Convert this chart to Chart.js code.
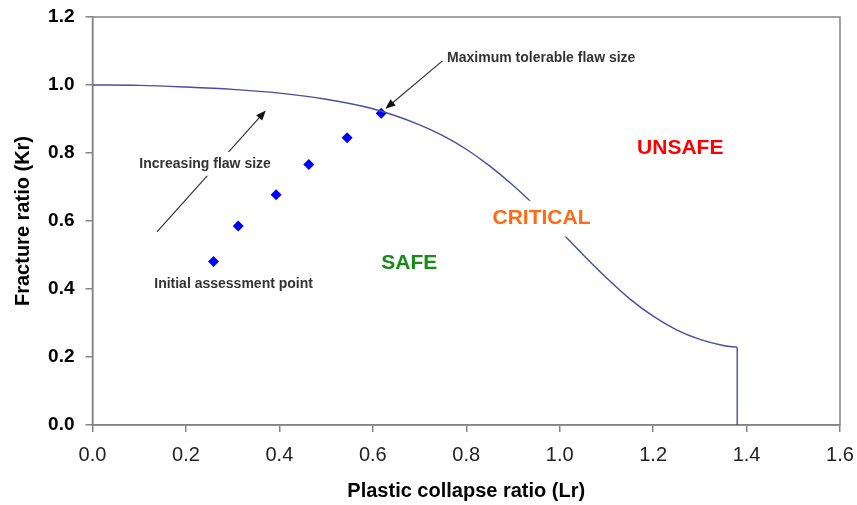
<!DOCTYPE html>
<html>
<head>
<meta charset="utf-8">
<script src="https://cdn.jsdelivr.net/npm/chart.js@4.4.1/dist/chart.umd.min.js"></script>
<style>
  html, body { margin: 0; padding: 0; background: #fff; }
  #wrap { width: 857px; height: 505px; }
</style>
</head>
<body>
<div id="wrap"><canvas id="fad"></canvas></div>
<script>
// failure assessment line
const lrCurve = [0, 0.1, 0.2, 0.3, 0.4, 0.5, 0.6, 0.7, 0.75, 0.8, 0.85, 0.9, 0.95, 1.0, 1.05, 1.1, 1.15, 1.2, 1.25, 1.3, 1.35, 1.37, 1.38];
const krCurve = [1.0, 0.999, 0.994, 0.987, 0.976, 0.958, 0.930, 0.883, 0.851, 0.811, 0.762, 0.705, 0.641, 0.572, 0.501, 0.433, 0.371, 0.320, 0.280, 0.252, 0.234, 0.230, 0.229];
// Lr max cut-off
const lrCutoff = [1.38, 1.38];
const krCutoff = [0.229, 0.0];
// assessment points
const lrPoints = [0.259, 0.312, 0.393, 0.463, 0.545, 0.618];
const krPoints = [0.481, 0.585, 0.677, 0.766, 0.845, 0.917];

const xTicks = [0, 0.2, 0.4, 0.6, 0.8, 1.0, 1.2, 1.4, 1.6];
const yTicks = [0, 0.2, 0.4, 0.6, 0.8, 1.0, 1.2];

const FONT = 'Arial, "Liberation Sans", sans-serif';
const AXIS_GREY = '#858585';

// labels + arrows drawn on top (data coords)
const notes = [
  { text: 'SAFE', x: 0.678, y: 0.476, color: '#178a17', size: 21, align: 'center' },
  { text: 'CRITICAL', x: 0.961, y: 0.607, color: '#ff6a13', size: 21, align: 'center', bg: true },
  { text: 'UNSAFE', x: 1.258, y: 0.813, color: '#ff0000', size: 21, align: 'center' },
  { text: 'Increasing flaw size', x: 0.241, y: 0.768, color: '#333', size: 14, align: 'center', bg: true },
  { text: 'Maximum tolerable flaw size', x: 0.759, y: 1.079, color: '#333', size: 14, align: 'left' },
  { text: 'Initial assessment point', x: 0.302, y: 0.415, color: '#333', size: 14, align: 'center' }
];
const arrows = [
  { from: [0.138, 0.568], to: [0.371, 0.925] },
  { from: [0.749, 1.071], to: [0.627, 0.930] }
];

const pairs = (xs, ys) => xs.map((x, i) => ({ x: x, y: ys[i] }));

const framePlugin = {
  id: 'frame',
  beforeDatasetsDraw(chart) {
    const a = chart.chartArea, ctx = chart.ctx;
    ctx.save();
    ctx.strokeStyle = AXIS_GREY;
    ctx.lineWidth = 1.5;
    ctx.strokeRect(a.left, a.top, a.right - a.left, a.bottom - a.top);
    ctx.restore();
  }
};

const notesPlugin = {
  id: 'notes',
  afterDatasetsDraw(chart) {
    const ctx = chart.ctx, xs = chart.scales.x, ys = chart.scales.y;
    ctx.save();
    // arrows
    arrows.forEach(a => {
      const x1 = xs.getPixelForValue(a.from[0]), y1 = ys.getPixelForValue(a.from[1]);
      const x2 = xs.getPixelForValue(a.to[0]), y2 = ys.getPixelForValue(a.to[1]);
      const ang = Math.atan2(y2 - y1, x2 - x1);
      ctx.strokeStyle = '#333';
      ctx.lineWidth = 1.2;
      ctx.beginPath();
      ctx.moveTo(x1, y1);
      ctx.lineTo(x2 - 6 * Math.cos(ang), y2 - 6 * Math.sin(ang));
      ctx.stroke();
      ctx.fillStyle = '#111';
      ctx.beginPath();
      ctx.moveTo(x2, y2);
      ctx.lineTo(x2 - 10 * Math.cos(ang) + 4 * Math.sin(ang), y2 - 10 * Math.sin(ang) - 4 * Math.cos(ang));
      ctx.lineTo(x2 - 10 * Math.cos(ang) - 4 * Math.sin(ang), y2 - 10 * Math.sin(ang) + 4 * Math.cos(ang));
      ctx.closePath();
      ctx.fill();
    });
    // texts
    notes.forEach(n => {
      const px = xs.getPixelForValue(n.x), py = ys.getPixelForValue(n.y);
      ctx.font = 'bold ' + n.size + 'px ' + FONT;
      ctx.textAlign = n.align;
      ctx.textBaseline = 'middle';
      if (n.bg) {
        const w = ctx.measureText(n.text).width;
        const left = n.align === 'center' ? px - w / 2 : px;
        ctx.fillStyle = '#fff';
        ctx.fillRect(left - 4, py - n.size * 0.85, w + 8, n.size * 1.7);
      }
      ctx.fillStyle = n.color;
      ctx.fillText(n.text, px, py);
    });
    ctx.restore();
  }
};

new Chart(document.getElementById('fad'), {
  type: 'scatter',
  data: {
    datasets: [
      {
        label: 'FAL',
        data: pairs(lrCurve, krCurve),
        showLine: true,
        cubicInterpolationMode: 'monotone',
        borderColor: '#4b4ba0',
        borderWidth: 1.4,
        pointRadius: 0
      },
      {
        label: 'cut-off',
        data: pairs(lrCutoff, krCutoff),
        showLine: true,
        borderColor: '#4b4ba0',
        borderWidth: 1.4,
        pointRadius: 0
      },
      {
        label: 'Assessment points',
        data: pairs(lrPoints, krPoints),
        pointStyle: 'rectRot',
        pointRadius: 5.5,
        backgroundColor: '#0000ff',
        borderColor: '#0000ff',
        borderWidth: 0
      }
    ]
  },
  options: {
    responsive: true,
    maintainAspectRatio: false,
    animation: false,
    layout: { padding: { top: 17, right: 17, left: 0, bottom: 0 } },
    plugins: { legend: { display: false }, tooltip: { enabled: false } },
    scales: {
      x: {
        type: 'linear',
        min: 0, max: 1.6,
        afterBuildTicks: s => { s.ticks = xTicks.map(v => ({ value: v })); },
        afterFit: s => { s.height = 80; s.paddingLeft = 0; s.paddingRight = 0; },
        grid: { drawOnChartArea: false, drawTicks: true, tickLength: 7, color: AXIS_GREY, lineWidth: 1.5 },
        border: { display: true, color: AXIS_GREY, width: 1.5 },
        ticks: { padding: 11, color: '#222', font: { family: FONT, size: 20 }, callback: v => v.toFixed(1) },
        title: { display: true, text: 'Plastic collapse ratio (Lr)', color: '#000',
                 font: { family: FONT, size: 20, weight: 'bold' }, padding: { top: 4, bottom: 2 } }
      },
      y: {
        type: 'linear',
        min: 0, max: 1.2,
        afterBuildTicks: s => { s.ticks = yTicks.map(v => ({ value: v })); },
        afterFit: s => { s.width = 92.5; s.paddingTop = 0; s.paddingBottom = 0; },
        grid: { drawOnChartArea: false, drawTicks: true, tickLength: 7, color: AXIS_GREY, lineWidth: 1.5 },
        border: { display: true, color: AXIS_GREY, width: 1.5 },
        ticks: { padding: 11, color: '#000', font: { family: FONT, size: 19, weight: 'bold' }, callback: v => v.toFixed(1) },
        title: { display: true, text: 'Fracture ratio (Kr)', color: '#000',
                 font: { family: FONT, size: 20, weight: 'bold' }, padding: { top: 11, bottom: 0 } }
      }
    }
  },
  plugins: [framePlugin, notesPlugin]
});
</script>
</body>
</html>
